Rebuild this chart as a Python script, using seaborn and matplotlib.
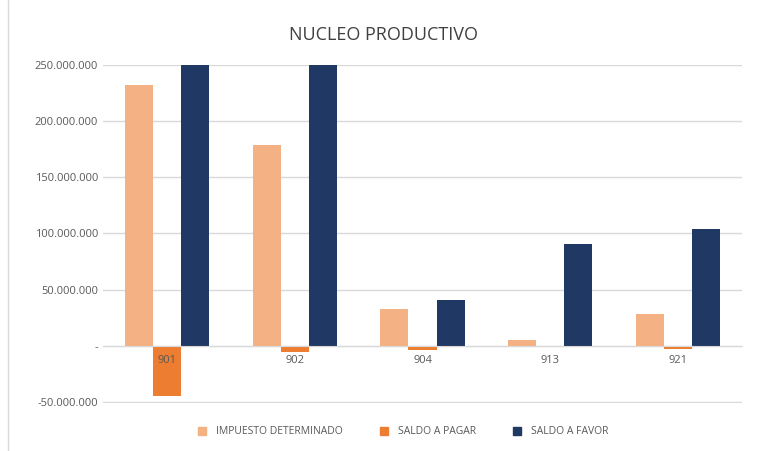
import numpy as np
import pandas as pd
import seaborn as sns
import matplotlib
matplotlib.use('Agg')
import matplotlib.pyplot as plt
from matplotlib.lines import Line2D
from matplotlib.ticker import FuncFormatter

# data
categorias = ['901', '902', '904', '913', '921']
impuesto_determinado = [232e6, 179e6, 33e6, 5.5e6, 28.5e6]
saldo_a_pagar = [-44.5e6, -6e6, -4e6, 0, -3e6]
saldo_a_favor = [260e6, 260e6, 41e6, 91e6, 104e6]
series = ['IMPUESTO DETERMINADO', 'SALDO A PAGAR', 'SALDO A FAVOR']
colores = ['#F4B183', '#ED7D31', '#203864']

df = pd.DataFrame({
    'cat': categorias * 3,
    'serie': [series[0]] * 5 + [series[1]] * 5 + [series[2]] * 5,
    'valor': impuesto_determinado + saldo_a_pagar + saldo_a_favor,
})

sns.set_style('white')
plt.rcParams['font.family'] = ['Open Sans', 'DejaVu Sans']

fig = plt.figure(figsize=(7.57, 4.51), dpi=100)
ax = fig.add_axes([103 / 757, 1 - 403 / 451, 639 / 757, 338 / 451])

sns.barplot(data=df, x='cat', y='valor', hue='serie', palette=colores,
            width=0.66, gap=0, ax=ax, legend=False, saturation=1, linewidth=0)

ax.set_ylim(-51e6, 250e6)
ax.set_yticks(np.arange(-50e6, 250e6 + 1, 50e6))


def fmt(v, pos):
    if abs(v) < 1:
        return '-'
    return f'{v:,.0f}'.replace(',', '.')


ax.yaxis.set_major_formatter(FuncFormatter(fmt))
ax.yaxis.grid(True, color='#D9D9D9', linewidth=1)
ax.set_axisbelow(True)
for s in ['left', 'right', 'top']:
    ax.spines[s].set_visible(False)
ax.spines['bottom'].set_position(('data', 0))
ax.spines['bottom'].set_color('#D9D9D9')
ax.tick_params(axis='both', length=0, labelsize=8, labelcolor='#595959')
ax.set_xticklabels([])
ax.set_xlabel('')
ax.set_ylabel('')

# category labels sit just under the zero line, drawn over the bars
for i, c in enumerate(categorias):
    ax.annotate(c, xy=(i, 0), xytext=(0, -7), textcoords='offset points',
                ha='center', va='top', fontsize=8, color='#595959', zorder=5)

fig.text(383 / 757, 1 - 35 / 451, 'NUCLEO PRODUCTIVO', ha='center', va='center',
         fontsize=13, color='#404040')

handles = [Line2D([], [], marker='s', linestyle='', markersize=6, color=c) for c in colores]
fig.legend(handles, series, loc='center', bbox_to_anchor=(400 / 757, 1 - 432 / 451),
           ncol=3, frameon=False, fontsize=7.5, labelcolor='#595959',
           handletextpad=0.3, columnspacing=3)

# chart frame line on the left
fig.add_artist(Line2D([8 / 757, 8 / 757], [0, 1], color='#D9D9D9', linewidth=1,
                      transform=fig.transFigure))

fig.savefig('out.png', dpi=100)
